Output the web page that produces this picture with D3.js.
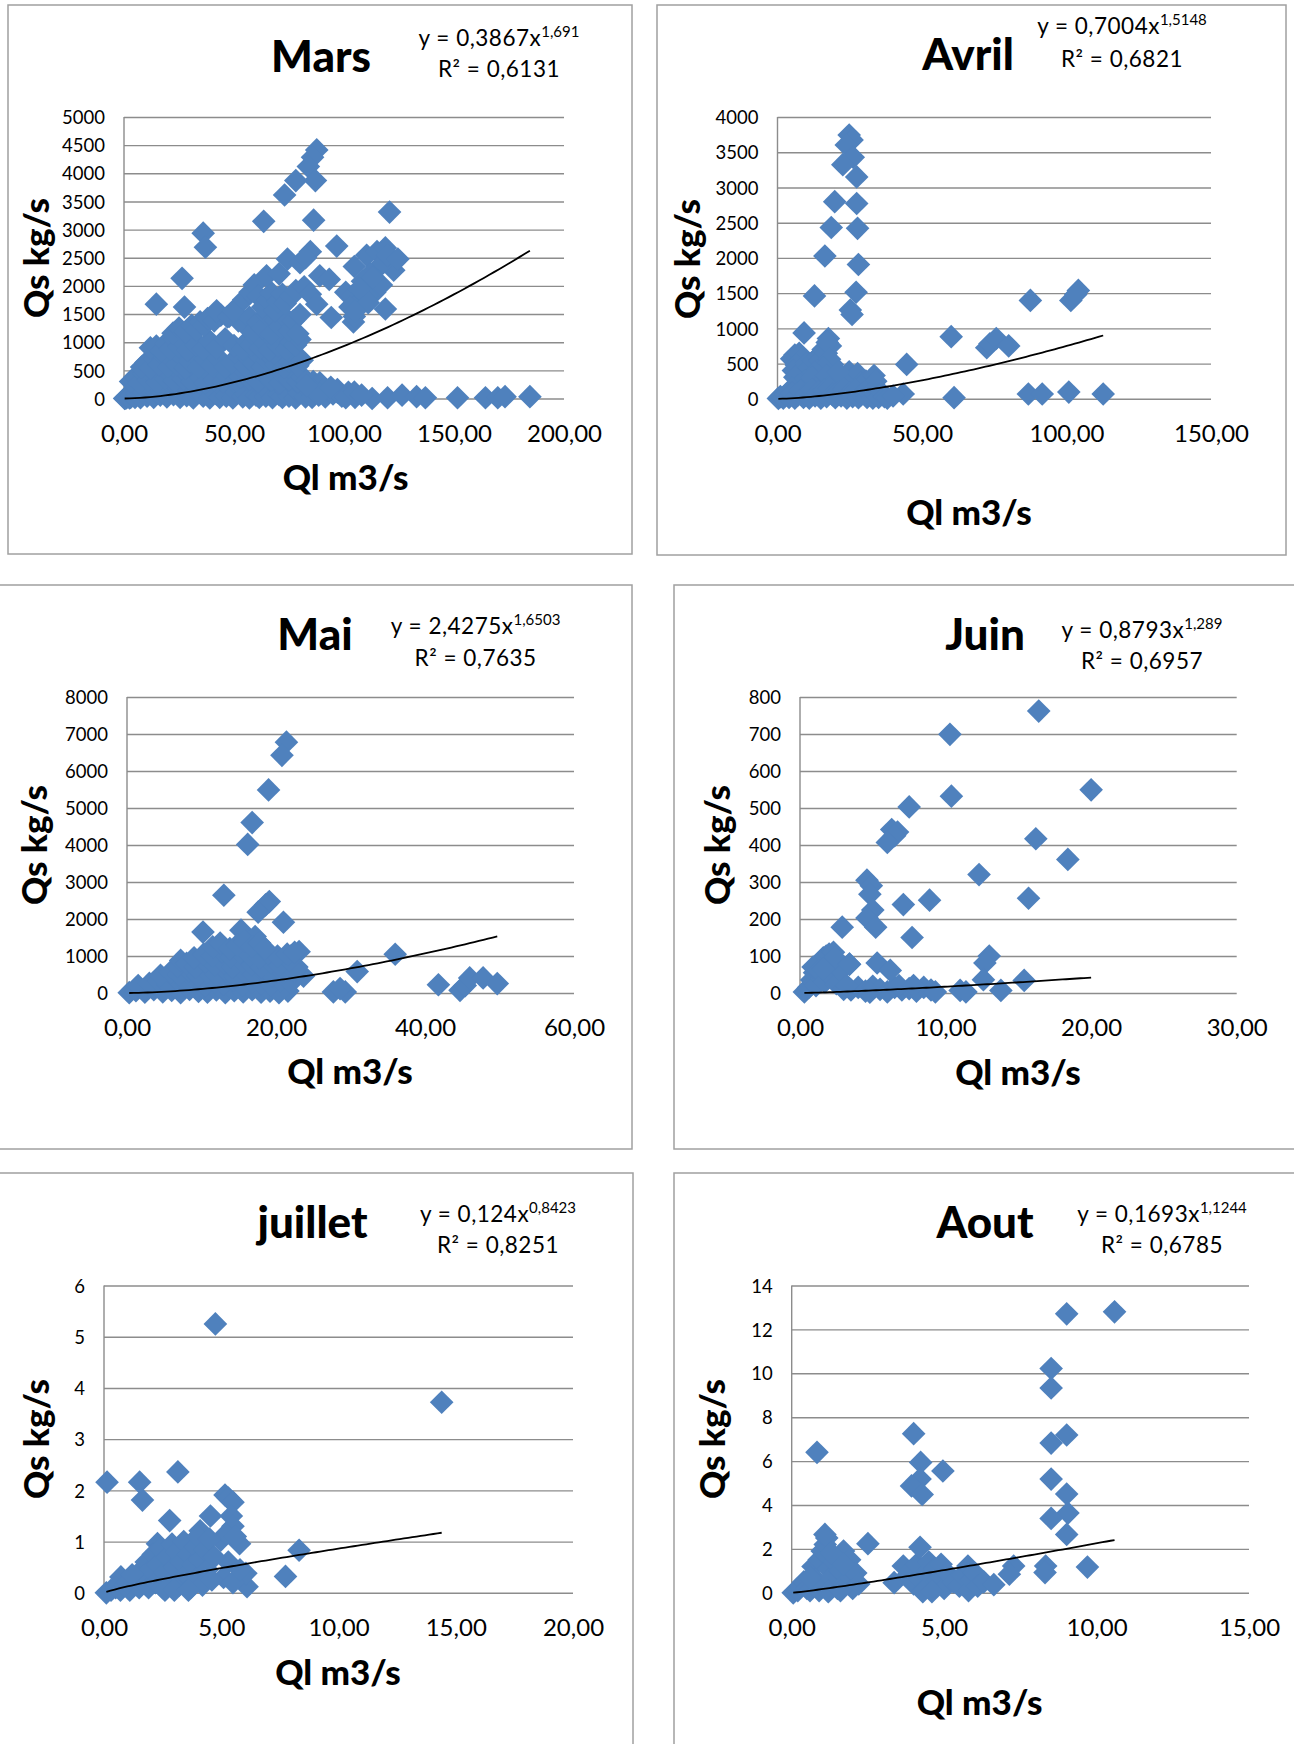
<!DOCTYPE html>
<html>
<head>
<meta charset="utf-8">
<script src="https://cdn.jsdelivr.net/npm/d3@7"></script>
<style>
  body { margin: 0; background: #fff; }
  text { font-family: Lato, "Open Sans", sans-serif; fill: #000; }
</style>
</head>
<body>
<div id="chart"></div>
<script>
// Months and axis settings
const months = ['Mars', 'Avril', 'Mai', 'Juin', 'juillet', 'Aout'];
const xMax = [200, 150, 60, 30, 20, 15];
const xStep = [50, 50, 20, 10, 5, 5];
const yMax = [5000, 4000, 8000, 800, 6, 14];
const yStep = [500, 500, 1000, 100, 1, 2];

// Power trendline y = a * x^b and R²
const coefA = [0.3867, 0.7004, 2.4275, 0.8793, 0.124, 0.1693];
const coefB = [1.691, 1.5148, 1.6503, 1.289, 0.8423, 1.1244];
const rSquared = [0.6131, 0.6821, 0.7635, 0.6957, 0.8251, 0.6785];

// Ql (m3/s), Qs (kg/s) pairs
const marsPoints = [
  [0.3,0],[1,10],[2,50],[3,20],[4,100],
  [0.5,5],[1.5,30],[2.5,10],[3.5,60],[5,20],[6,90],[7.5,15],[9,110],[10.5,40],[12,150],[13.5,20],[15,100],
  [16.5,60],[18,190],[19.5,30],[21,130],[22.5,70],[24,220],[25.5,20],[27,160],[28.5,50],[30,240],[31.5,10],
  [33,120],[34.5,200],[36,40],[37.5,150],[39,10],[40.5,230],[42,80],[43.5,20],[45,170],[46.5,40],[48,260],
  [49.5,10],[51,120],[52.5,200],[54,30],[55.5,90],[57,10],[58.5,250],[60,60],[61.5,20],[63,180],[64.5,40],
  [66,110],[67.5,15],[69,230],[70.5,70],[72,20],[73.5,140],[75,40],[76.5,260],[78,10],[79.5,100],[81,200],
  [82.5,30],[84,150],[85.5,20],[87,240],[88.5,60],[90,190],[91.5,30],[93,140],[95,80],[97,160],[99,40],
  [102,110],[105,20],
  [3,300],[5,380],[7,280],[9,450],[11,330],[13,420],[15,290],[17,470],[19,360],[21,440],[23,310],[25,480],
  [27,350],[29,420],[31,300],[33,460],[35,370],[37,280],[39,440],[41,330],[43,480],[45,300],[47,400],[49,460],
  [51,320],[53,380],[55,480],[57,350],[59,420],[61,300],[63,470],[65,380],[67,330],[69,450],[71,280],[73,400],
  [75,340],[77,470],[79,300],[81,380],[83,320],[86,300],[89,280],
  [8,560],[10,640],[12,540],[14,700],[16,600],[18,760],[20,560],[22,680],[24,600],[26,750],[28,540],[30,660],
  [32,780],[34,560],[37,700],[40,590],[43,720],[46,560],[49,640],[52,760],[55,580],[57,700],[59,620],[61,780],
  [63,560],[65,680],[67,740],[69,600],[71,700],[73,560],[75,650],[77,760],[79,580],[81,680],
  [12,900],[14.7,933],[17,850],[19,980],[21,880],[23,1050],[25,920],[27,1000],[29,860],[31,1080],[33,950],
  [36,880],[39,1020],[42,900],[46,1060],[50,940],[54,880],[56,1020],[58,950],[60,1080],[62,900],[64,1000],
  [66,860],[68,1050],[70,940],[72,1100],[74,880],[76,1000],[78,950],[80,1050],
  [22.3,1160],[25,1250],[28,1180],[30.8,1300],[33,1220],[34.6,1360],[36.4,1300],[38,1420],[41,1380],[44,1480],
  [47,1450],[50,1520],[52,1380],[55,1300],[57,1440],[59,1200],[61,1350],[63,1250],[65,1480],[67,1150],
  [69,1380],[71,1280],[73,1450],[75,1200],[77,1380],[79,1150],
  [42.1,1557],[47.8,1458],[49.7,1557],[54.4,1754],[57.3,1886],[59.2,2017],[61,1820],[63,1620],[65,1750],
  [67,1880],[68.6,1557],[70,1720],[72,1850],[73.3,1689],[76.2,1820],[78.1,1918],[80,1491],[81.9,1984],
  [84.7,1853],[87.6,1675],[94.2,1439],
  [87.6,4415],[85.7,4284],[83.8,4120],[78.1,3870],[87,3870],[73,3614],[86.2,3167],[63.5,3147],[120.7,3311],
  [36,2937],[37,2687],[96.7,2707],[74.3,2477],[80,2411],[84.7,2608],[82.5,2500],[26.4,2135],[64.8,2181],
  [70.5,2214],[89,2181],[93.3,2115],[14.7,1675],[27.5,1623],[118.8,1590],[104.3,1360],[104.7,1458],
  [104.7,2345],[110.3,2543],[115,2608],[118.8,2674],[121.7,2477],[122.6,2280],[116,2345],[112,2214],
  [108.4,2083],[100.8,1886],[103.7,1820],[106.5,1689],[114,1886],[117,2017],[110.3,1820],[102.7,1623],
  [113,2148],[117.9,2411],[119.8,2543],[124.5,2477],[107,1950],[111,1700],[105,1550],
  [91.4,177],[97,112],[100.8,13],[104.7,112],[112.8,0],[119.8,13],[126.4,59],[133,33],[137,13],[151.6,13],
  [164.3,13],[169.9,13],[173.2,33],[184.5,33],[86,150],[89,80],[94,200],[83,230],[108,60]
];

const avrilPoints = [
  [24.8,3743],[25.8,3675],[23.8,3602],[26.2,3428],[22.6,3323],[27.4,3150],[19.8,2798],[27.4,2772],
  [18.6,2431],[27.7,2420],[16.4,2027],[28,1906],[27.2,1512],[12.8,1460],[25.2,1260],[25.8,1197],[9.2,935],
  [60.1,882],[72.4,725],[73.5,780],[75.7,856],[80,751],[87.5,1397],[101.5,1397],[104.1,1538],[103.2,1480],
  [44.7,488],[61.1,16],[86.8,68],[91.6,68],[100.8,95],[112.7,68],[43.5,68],
  [4.9,567],[6,620],[7.5,646],[8.3,560],[6.5,480],[5.5,400],[7,350],[8.8,420],[10,500],[11.1,436],[12.5,540],
  [14,600],[14.7,541],[15.8,700],[16.9,646],[17.6,856],[18.3,751],[17.2,800],[19,488],[18,560],[16,440],
  [13,380],[9.7,252],[6,305],[7.5,200],[5,150],[10,180],[12,300],[15,220],[17,330],[20,260],[22,150],
  [24.8,383],[26,300],[27.7,357],[29,220],[30.6,252],[33.4,330],[32,180],[35,120],[34,250],[24,200],[21,380],
  [0.3,5],[1,30],[2,10],[3,60],[4,20],[5,80],[6,10],[7,50],[8,110],[9,20],[10,70],[11,10],[12,130],[13,40],
  [14,90],[15,10],[16,120],[17,30],[18,150],[19,60],[20,15],[21,100],[22,40],[23,140],[24,10],[25,80],
  [26,30],[27,120],[28,15],[29,60],[30,100],[31,20],[32,70],[33,10],[34,60],[35,20],[36,90],[37,30],
  [38,10],[40,40]
];

const maiPoints = [
  [21.4,6780],[20.8,6424],[19,5489],[16.8,4605],[16.2,4015],[13,2643],[19.1,2470],[18.6,2380],[17.6,2185],
  [21,1911],[10.2,1647],[15.3,1698],[17.2,1525],[36,1047],[30.9,579],[23.1,1118],[22,1000],[23.7,457],
  [22.8,700],[21.6,51],[27.7,30],[29.3,30],[28.6,120],[41.8,224],[44.7,71],[45.4,200],[46,407],[47.8,407],
  [49.7,254],
  [0.3,10],[1.2,60],[2.4,20],[3.6,90],[4.8,30],[6,70],[7.2,10],[8.4,100],[9.6,40],[10.8,20],[12,80],
  [13.2,10],[14.4,60],[15.6,30],[16.8,90],[18,20],[19.2,50],[20.4,10],
  [1.5,200],[3,260],[4.2,320],[5.5,220],[6.8,350],[8,250],[9.2,330],[10.5,200],[11.8,300],[13,240],
  [14.3,350],[15.5,210],[16.8,300],[18,260],[19.3,220],[20.5,330],[22,280],
  [4.5,480],[5.8,560],[7,500],[8.3,600],[9.5,470],[10.8,560],[12,500],[13.3,600],[14.5,450],[15.8,560],
  [17,500],[18.3,580],[19.5,470],[21,550],[22.5,600],
  [6.8,720],[7.2,880],[8,800],[9.2,700],[10.5,850],[11.8,760],[13,820],[14.2,700],[15.5,850],[16.8,760],
  [18,700],[19.3,820],[20.5,750],[21.8,880],
  [9,950],[10.3,1050],[11.5,1000],[12.8,1120],[14,980],[15.2,1100],[16.5,1020],[17.8,950],[19,1080],
  [20.2,1000],[21.5,1050],[22.5,1100],
  [11.5,1250],[12.5,1350],[13.8,1200],[14.8,1300],[15.8,1400],[16.8,1250],[17.8,1350],[18.5,1200]
];

const juinPoints = [
  [0.3,3],[0.6,15],[0.8,35],[1,55],[1.2,75],[1.4,85],[1.6,95],[1.8,100],[2,105],[2.3,110],[1.1,20],[1.5,40],
  [1.9,60],[2.2,80],[0.9,70],[1.3,60],[1.7,30],[2.1,45],[2.5,25],[2.8,60],[3.4,78],[3,10],[2.4,95],[1.6,65],
  [3.5,8],[4,15],[4.5,5],[5,18],[5.5,10],[6,3],[6.5,15],[7,8],[7.5,12],[8,5],[8.5,15],[9,8],[9.3,3],[3.2,20],
  [4.8,2],[6.8,20],[7.8,20],
  [16.4,762],[10.3,699],[20,549],[10.4,532],[7.5,503],[6.3,442],[6.7,435],[6.5,425],[6,407],[16.2,417],
  [18.4,361],[12.3,320],[4.6,305],[4.9,290],[4.8,267],[15.7,256],[8.9,251],[7.1,239],[5,224],[4.6,203],
  [5.2,178],[2.9,178],[7.7,150],[13,100],[12.7,81],[12.6,36],[15.4,34],[13.8,7],[11,7],[11.4,3],[5.3,81],
  [6.2,61],[3.4,78]
];

const juilletPoints = [
  [4.75,5.25],[14.4,3.72],[0.13,2.16],[1.52,2.16],[1.64,1.81],[3.15,2.36],[2.8,1.41],[5.16,1.91],[5.3,1.85],
  [5.5,1.77],[4.54,1.5],[5.43,1.5],[5.5,1.3],[4.1,1.21],[8.32,0.83],[7.74,0.32],[6.1,0.12],[6.05,0.38],
  [5.78,0.96],[4.98,1.03],[5.2,1.15],[5.6,1.1],[5.3,0.6],[5.1,0.3],[5.5,0.2],[5.8,0.45],[2.28,0.96],[0.72,0.31],
  [0.1,0],[0.3,0.05],[0.5,0.1],[0.7,0.05],[0.9,0.15],[1.1,0.05],[1.3,0.2],[1.5,0.1],[1.5,0.4],[1.7,0.3],
  [1.8,0.6],[1.9,0.1],[2,0.45],[2.1,0.75],[2.2,0.2],[2.3,0.55],[2.4,0.85],[2.5,0.1],[2.6,0.4],[2.7,0.7],
  [2.8,0.2],[2.9,0.95],[3,0.5],[3.1,0.8],[3.2,0.15],[3.3,0.6],[3.4,1.0],[3.5,0.35],[3.6,0.75],[3.7,0.1],
  [3.8,0.55],[3.9,0.9],[4,0.3],[4,1.1],[4.1,0.65],[4.2,0.15],[4.3,0.85],[4.4,0.45],[4.5,1.05],[4.6,0.25],
  [4.7,0.7],[1,0.2],[1.2,0.35],[2.6,0.05],[3,0.05],[3.6,0.05]
];

const aoutPoints = [
  [0.05,0],[0.2,0.1],[0.3,0.3],[0.4,0.5],[0.5,0.2],[0.6,0.1],[0.7,1.2],[0.8,0.6],[0.9,1.5],[1,0.3],[1,1.9],
  [1.1,2.2],[1.15,2.5],[1.2,1.1],[1.3,0.7],[1.4,1.4],[1.5,0.2],[1.6,1.0],[1.7,1.9],[1.8,0.5],[1.9,1.5],
  [2,0.2],[2.1,0.9],[2.2,0.4],[0.9,0.1],[1.2,0.05],[1.6,0.1],[1.3,1.8],[0.6,0.7],[1.7,1.3],
  [3.36,0.46],[3.66,1.22],[3.8,0.8],[3.9,1.0],[4,0.4],[4.1,1.3],[4.2,0.6],[4.3,0.1],[4.4,0.9],[4.5,1.4],
  [4.6,0.3],[4.7,1.1],[4.8,0.6],[4.9,1.3],[5,0.2],[5.1,0.9],[5.3,0.5],[5.5,0.3],[5.6,0.8],[5.78,1.22],
  [5.8,0.1],[5.9,0.6],[6,0.9],[6.1,0.3],[6.3,0.5],[6.63,0.37],[4.3,0.05],[4.6,0.05],
  [10.59,12.8],[9.02,12.71],[8.51,10.22],[8.51,9.33],[4.0,7.25],[9.02,7.19],[8.51,6.82],[0.83,6.4],
  [4.23,5.94],[4.96,5.55],[4.21,5.18],[3.93,4.87],[4.28,4.48],[8.51,5.18],[9.02,4.5],[9.06,3.63],[8.51,3.39],
  [9.02,2.66],[1.09,2.66],[2.5,2.24],[4.21,2.07],[9.7,1.17],[8.33,1.22],[8.31,0.92],[7.28,1.22],[7.14,0.85]
];

const points = [marsPoints, avrilPoints, maiPoints, juinPoints, juilletPoints, aoutPoints];

// Page layout of each panel (pixels)
const layout = [
  { box: [8, 5, 632, 554], plot: [124, 117, 564, 398.5], title: [321, 71.7], eq: [499, 46, 76.7], xt: [345.6, 490], yt: [49, 258] },
  { box: [657, 5, 1286, 555], plot: [777.5, 117, 1211, 398.8], title: [968, 69.5], eq: [1122, 34, 66.6], xt: [969, 525], yt: [700, 259] },
  { box: [-5, 585, 632, 1149], plot: [127, 697, 574, 993], title: [315, 650], eq: [475.6, 634, 666], xt: [350, 1083.5], yt: [47, 845] },
  { box: [674, 585, 1310, 1149], plot: [800, 697, 1236.7, 993], title: [985, 650], eq: [1142, 637.7, 668.6], xt: [1018, 1085], yt: [729.5, 845] },
  { box: [-5, 1173, 633, 1760], plot: [104, 1285.5, 573, 1592.8], title: [312.5, 1238], eq: [498, 1221.5, 1253], xt: [338, 1685], yt: [49, 1439] },
  { box: [674, 1173, 1310, 1760], plot: [791.7, 1285.5, 1249, 1592.8], title: [985, 1238], eq: [1162, 1221.5, 1253], xt: [979.6, 1715], yt: [725, 1439] }
];

const gridColor = '#8c8c8c';
const markerColor = '#4f81bd';
const comma = v => String(v).replace('.', ',');

const svg = d3.select('#chart')
  .append('svg')
  .attr('width', 1294)
  .attr('height', 1744);

months.forEach((m, i) => drawPanel(i));

function drawPanel(i) {
  const L = layout[i];
  const g = svg.append('g');

  // Chart frame
  g.append('rect')
    .attr('x', L.box[0]).attr('y', L.box[1])
    .attr('width', L.box[2] - L.box[0]).attr('height', L.box[3] - L.box[1])
    .attr('fill', '#fff')
    .attr('stroke', '#a0a0a0')
    .attr('stroke-width', 1.5);

  const x = d3.scaleLinear().domain([0, xMax[i]]).range([L.plot[0], L.plot[2]]);
  const y = d3.scaleLinear().domain([0, yMax[i]]).range([L.plot[3], L.plot[1]]);

  const yTicks = d3.range(0, yMax[i] + yStep[i] / 2, yStep[i]);
  const xTicks = d3.range(0, xMax[i] + xStep[i] / 2, xStep[i]);

  // Horizontal gridlines + y labels
  g.append('g')
    .attr('transform', `translate(${L.plot[0]},0)`)
    .call(d3.axisLeft(y).tickValues(yTicks).tickSize(-(L.plot[2] - L.plot[0])).tickPadding(19).tickFormat(d => d))
    .call(a => a.select('.domain').remove())
    .call(a => a.selectAll('line').attr('stroke', gridColor).attr('stroke-width', 1.4))
    .call(a => a.selectAll('text').attr('font-size', 18.5).attr('dy', '0.36em'));

  // Vertical axis line
  g.append('line')
    .attr('x1', L.plot[0]).attr('x2', L.plot[0])
    .attr('y1', L.plot[1]).attr('y2', L.plot[3])
    .attr('stroke', gridColor).attr('stroke-width', 1.4);

  // x labels
  g.append('g')
    .attr('transform', `translate(0,${L.plot[3]})`)
    .call(d3.axisBottom(x).tickValues(xTicks).tickSize(0).tickPadding(26).tickFormat(d => d3.format('.2f')(d).replace('.', ',')))
    .call(a => a.select('.domain').remove())
    .call(a => a.selectAll('text').attr('font-size', 24));

  // Diamond markers
  g.append('g')
    .selectAll('path')
    .data(points[i])
    .join('path')
    .attr('d', d3.symbol(d3.symbolSquare, 280))
    .attr('transform', d => `translate(${x(d[0])},${y(d[1])}) rotate(45)`)
    .attr('fill', markerColor);

  // Power trendline across the data range
  const ext = d3.extent(points[i], d => d[0]);
  const samples = d3.range(0, 81).map(k => ext[0] + (ext[1] - ext[0]) * k / 80);
  g.append('path')
    .datum(samples)
    .attr('fill', 'none')
    .attr('stroke', '#000')
    .attr('stroke-width', 1.8)
    .attr('d', d3.line().x(d => x(d)).y(d => y(coefA[i] * Math.pow(d, coefB[i]))));

  // Title
  g.append('text')
    .attr('x', L.title[0]).attr('y', L.title[1])
    .attr('text-anchor', 'middle')
    .attr('font-size', 44)
    .attr('font-weight', 900)
    .text(months[i]);

  // Trendline equation
  const eq = g.append('text')
    .attr('x', L.eq[0]).attr('y', L.eq[1])
    .attr('text-anchor', 'middle')
    .attr('font-size', 22.5)
    .attr('letter-spacing', 0.5);
  eq.append('tspan').text(`y = ${comma(coefA[i])}x`);
  eq.append('tspan').attr('dy', -9).attr('font-size', 15).attr('letter-spacing', 0).text(comma(coefB[i]));

  g.append('text')
    .attr('x', L.eq[0]).attr('y', L.eq[2])
    .attr('text-anchor', 'middle')
    .attr('font-size', 22.5)
    .attr('letter-spacing', 0.5)
    .text(`R² = ${comma(rSquared[i])}`);

  // Axis titles
  g.append('text')
    .attr('x', L.xt[0]).attr('y', L.xt[1])
    .attr('text-anchor', 'middle')
    .attr('font-size', 35)
    .attr('font-weight', 900)
    .text('Ql m3/s');

  g.append('text')
    .attr('transform', `translate(${L.yt[0]},${L.yt[1]}) rotate(-90)`)
    .attr('text-anchor', 'middle')
    .attr('font-size', 35)
    .attr('font-weight', 900)
    .text('Qs kg/s');
}
</script>
</body>
</html>
